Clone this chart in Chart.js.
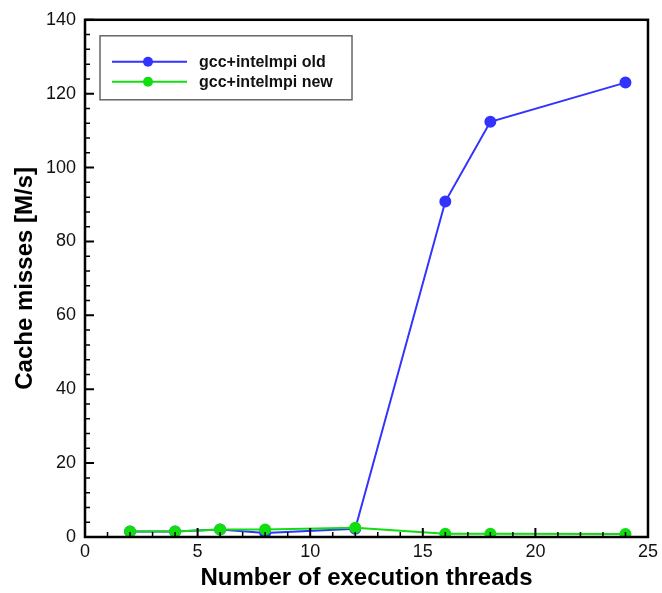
<!DOCTYPE html>
<html>
<head>
<meta charset="utf-8">
<script src="https://cdn.jsdelivr.net/npm/chart.js@4"></script>
<style>
  html, body { margin: 0; padding: 0; background: #fff; }
  #wrap { width: 662px; height: 593px; }
</style>
</head>
<body>
<div id="wrap"><canvas id="missChart"></canvas></div>
<script>
// data
var threads = [2, 4, 6, 8, 12, 16, 18, 24];
var oldMisses = [1.5, 1.5, 2.0, 1.1, 2.2, 90.8, 112.4, 123.0];
var newMisses = [1.5, 1.5, 2.0, 2.0, 2.5, 0.9, 0.9, 0.8];
var seriesNames = ['gcc+intelmpi old', 'gcc+intelmpi new'];
var xTickValues = [0, 5, 10, 15, 20, 25];
var yTickValues = [0, 20, 40, 60, 80, 100, 120, 140];

var FONT = '"Liberation Sans", Arial, sans-serif';

function toPoints(xs, ys) {
    return xs.map(function(x, i) { return { x: x, y: ys[i] }; });
}

// frame, inward ticks (left/bottom only) and the boxed legend
var framePlugin = {
    id: 'frame',
    afterDraw: function(chart) {
        var ctx = chart.ctx;
        var a = chart.chartArea;
        var xs = chart.scales.x, ys = chart.scales.y;
        ctx.save();
        ctx.strokeStyle = '#000';
        ctx.lineWidth = 1.5;
        var v, p;
        // minor ticks
        ctx.beginPath();
        for (v = 0; v <= 25; v += 1) {
            if (v % 5 === 0) continue;
            p = xs.getPixelForValue(v);
            ctx.moveTo(p, a.bottom); ctx.lineTo(p, a.bottom - 5);
        }
        for (v = 0; v <= 140; v += 4) {
            if (v % 20 === 0) continue;
            p = ys.getPixelForValue(v);
            ctx.moveTo(a.left, p); ctx.lineTo(a.left + 5, p);
        }
        ctx.stroke();
        // major ticks
        ctx.lineWidth = 2;
        ctx.beginPath();
        xTickValues.forEach(function(t) {
            p = xs.getPixelForValue(t);
            ctx.moveTo(p, a.bottom); ctx.lineTo(p, a.bottom - 9);
        });
        yTickValues.forEach(function(t) {
            p = ys.getPixelForValue(t);
            ctx.moveTo(a.left, p); ctx.lineTo(a.left + 9, p);
        });
        ctx.stroke();
        ctx.lineWidth = 2.5;
        ctx.strokeRect(a.left, a.top, a.right - a.left, a.bottom - a.top);

        // legend box
        var bx = a.left + 15, by = a.top + 16, bw = 252, bh = 64;
        ctx.fillStyle = '#fff';
        ctx.fillRect(bx, by, bw, bh);
        ctx.lineWidth = 1.5;
        ctx.strokeStyle = '#666';
        ctx.strokeRect(bx, by, bw, bh);
        ctx.font = 'bold 16px ' + FONT;
        ctx.textBaseline = 'middle';
        chart.data.datasets.forEach(function(ds, i) {
            var ly = by + 26 + i * 20;
            ctx.strokeStyle = ds.borderColor;
            ctx.lineWidth = 2;
            ctx.beginPath();
            ctx.moveTo(bx + 12, ly); ctx.lineTo(bx + 87, ly);
            ctx.stroke();
            ctx.fillStyle = ds.pointBackgroundColor;
            ctx.beginPath();
            ctx.arc(bx + 48, ly, 5, 0, Math.PI * 2);
            ctx.fill();
            ctx.fillStyle = '#111';
            ctx.fillText(ds.label, bx + 99, ly + 1);
        });
        ctx.restore();
    }
};

var ctx = document.getElementById('missChart').getContext('2d');
var missChart = new Chart(ctx, {
    type: 'line',
    data: {
        datasets: [{
            label: seriesNames[0],
            data: toPoints(threads, oldMisses),
            borderColor: '#3333ff',
            backgroundColor: '#3333ff',
            pointBackgroundColor: '#3333ff',
            pointBorderColor: '#3333ff',
            borderWidth: 2,
            pointRadius: 5,
            tension: 0,
            order: 1
        }, {
            label: seriesNames[1],
            data: toPoints(threads, newMisses),
            borderColor: '#11dd11',
            backgroundColor: '#11dd11',
            pointBackgroundColor: '#11dd11',
            pointBorderColor: '#11dd11',
            borderWidth: 2,
            pointRadius: 5,
            tension: 0,
            order: 0
        }]
    },
    options: {
        responsive: true,
        maintainAspectRatio: false,
        animation: false,
        layout: { padding: { top: 19, right: 10, left: 0, bottom: 0 } },
        plugins: {
            legend: { display: false },
            tooltip: { enabled: false }
        },
        scales: {
            x: {
                type: 'linear',
                min: 0, max: 25,
                afterBuildTicks: function(s) {
                    s.ticks = xTickValues.map(function(v) { return { value: v }; });
                },
                afterFit: function(s) { s.height = 56; },
                grid: { display: false, drawTicks: false },
                border: { display: false },
                ticks: {
                    padding: 4,
                    color: '#111',
                    font: { family: FONT, size: 18 }
                },
                title: {
                    display: true,
                    text: 'Number of execution threads',
                    color: '#000',
                    padding: { top: 0, bottom: 0 },
                    font: { family: FONT, size: 24, weight: 'bold' }
                }
            },
            y: {
                type: 'linear',
                min: 0, max: 140,
                afterBuildTicks: function(s) {
                    s.ticks = yTickValues.map(function(v) { return { value: v }; });
                },
                afterFit: function(s) { s.width = 85; },
                grid: { display: false, drawTicks: false },
                border: { display: false },
                ticks: {
                    padding: 9,
                    color: '#111',
                    font: { family: FONT, size: 18 }
                },
                title: {
                    display: true,
                    text: 'Cache misses [M/s]',
                    color: '#000',
                    padding: { top: 11, bottom: 0 },
                    font: { family: FONT, size: 24, weight: 'bold' }
                }
            }
        }
    },
    plugins: [framePlugin]
});
</script>
</body>
</html>
